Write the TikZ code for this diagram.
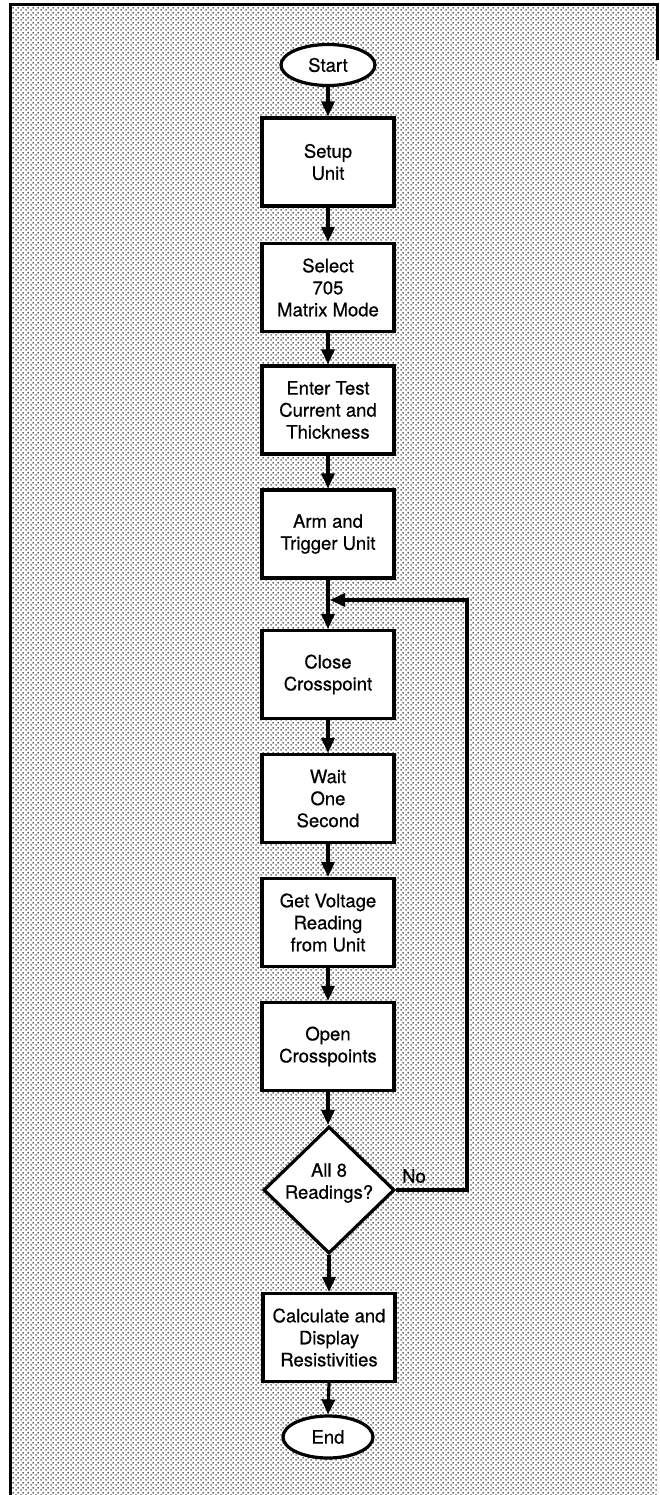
\documentclass[tikz,border=0pt]{standalone}
\usepackage{fontspec}
\setmainfont{TeX Gyre Heros}[FakeBold=0.6]
\usetikzlibrary{arrows.meta,shapes.geometric,patterns.meta}

% fine screen of dots for the panel background
\tikzdeclarepattern{
  name=screendots,
  type=uncolored,
  bounding box={(0pt,0pt) and (5pt,5pt)},
  tile size={(5pt,5pt)},
  code={
    \fill (1.25pt,1.25pt) circle (0.95pt);
    \fill (3.75pt,3.75pt) circle (0.95pt);
  }
}

\tikzset{
  flowtext/.style={font=\fontsize{18.5}{22}\selectfont, align=center},
  stepbox/.style={flowtext, draw, line width=3.2pt, fill=white,
    minimum width=132pt, minimum height=88pt, inner sep=0pt},
  terminal/.style={flowtext, draw, ellipse, line width=3.2pt, fill=white,
    inner sep=0pt},
  decision/.style={draw, diamond, line width=3.2pt, fill=white,
    minimum width=131pt, minimum height=127pt, inner sep=0pt},
  flow/.style={line width=3.2pt, -{Triangle[length=15pt,width=13pt]}},
  frameline/.style={line width=3pt}
}

\begin{document}
\begin{tikzpicture}[x=1pt,y=1pt]
  % page area
  \useasboundingbox (0,0) rectangle (660,-1495);
  \fill[white] (0,0) rectangle (660,-1495);
  \fill[pattern={screendots}, pattern color=black!85]
    (10,-5) rectangle (657,-1495);

  % frame
  \draw[frameline] (10.5,-1495) -- (10.5,-5) -- (657.5,-5) -- (657.5,-60);

  % terminals
  \node[terminal, minimum width=94pt, minimum height=41pt] (start) at (328,-65) {Start};
  \node[terminal, minimum width=90pt, minimum height=42pt] (stop) at (328,-1437) {End};

  % process steps
  \node[stepbox] (setup)  at (328,-162)    {Setup\\Unit};
  \node[stepbox] (select) at (328,-287.5)  {Select\\705\\Matrix Mode};
  \node[stepbox] (enter)  at (328,-410)    {Enter Test\\Current and\\Thickness};
  \node[stepbox] (arm)    at (328,-534)    {Arm and\\Trigger Unit};
  \node[stepbox] (close)  at (328,-674.5)  {Close\\Crosspoint};
  \node[stepbox] (wait)   at (328,-798.5)  {Wait\\One\\Second};
  \node[stepbox] (get)    at (328,-922.5)  {Get Voltage\\Reading\\from Unit};
  \node[stepbox] (open)   at (328,-1046.5) {Open\\Crosspoints};
  \node[decision] (check) at (329,-1190) {};
  \node[flowtext] (checktext) at (329,-1183) {All 8\\Readings?};
  \node[stepbox] (calc)   at (329,-1337.5) {Calculate and\\Display\\Resistivities};

  % loop return
  \coordinate (join) at (330,-600);
  \coordinate (loopright) at (467,-1190);
  \node[flowtext, anchor=center] (nolabel) at (414,-1176) {No};

  % connectors
  \draw[flow] (start.south) -- (setup.north);
  \draw[flow] (setup.south) -- (select.north);
  \draw[flow] (select.south) -- (enter.north);
  \draw[flow] (enter.south) -- (arm.north);
  \draw[flow] (arm.south) -- (close.north);
  \draw[flow] (close.south) -- (wait.north);
  \draw[flow] (wait.south) -- (get.north);
  \draw[flow] (get.south) -- (open.north);
  \draw[flow] (open.south) -- (open.south |- check.north);
  \draw[flow] (check.south) -- (calc.north);
  \draw[flow] (calc.south) -- (stop.north);
  \draw[flow] (check.east) -- (loopright) |- (join);
\end{tikzpicture}
\end{document}
